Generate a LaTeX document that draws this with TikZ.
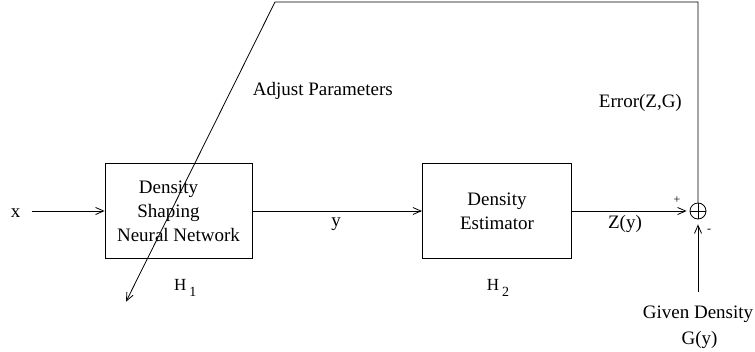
\documentclass[tikz,border=0pt]{standalone}
\usepackage{fontspec}
\setmainfont{Liberation Serif}
\usetikzlibrary{arrows.meta, positioning, calc}

\begin{document}
\begin{tikzpicture}[
    x=1pt, y=-1pt,
    font=\fontsize{19}{24}\selectfont,
    block/.style={rectangle, draw, line width=0.8pt, minimum height=95pt, inner sep=0pt, align=center},
    lbl/.style={inner sep=0pt, anchor=base},
    sign/.style={inner sep=0pt, font=\fontsize{12}{12}\selectfont},
    sub/.style={inner sep=0pt, anchor=base west, font=\fontsize{17}{17}\selectfont},
    arrow/.style={-{Straight Barb[length=8pt,width=7pt]}, line width=0.8pt}
]
\useasboundingbox (0,0) rectangle (755,351);
\node[block, minimum width=147pt] (b1) at (178.5,211) {Density\rule{20pt}{0pt}\\Shaping\rule{20pt}{0pt}\\Neural Network};
\node[block, minimum width=149.4pt] (b2) at (497,211) {Density\\Estimator};
\node[circle, draw, minimum size=16pt, inner sep=0pt, line width=0.8pt] (sum) at (698,211) {};
\draw[line width=0.8pt] (sum.north) -- (sum.south) (sum.west) -- (sum.east);
% labels
\node[lbl] (xin) at (15.5,217) {x};
\node[lbl] (ylbl) at (336,226) {y};
\node[lbl] (zlbl) at (625,228) {Z(y)};
\node[sign] (plus) at (677,200) {+};
\node[sign] (minus) at (709,231) {-};
\node[lbl] (given) at (698,318) {Given Density};
\node[lbl] (giveng) at (699.5,344) {G(y)};
\node[lbl, anchor=base east] (err) at (682,107) {Error(Z,G)};
\node[lbl, anchor=base west] (adj) at (252.7,95) {Adjust Parameters};
\node[sub] (h1) at (174,290) {H\kern3pt\raisebox{-6pt}{\fontsize{14}{14}\selectfont 1}};
\node[sub] (h2) at (486.7,290) {H\kern3pt\raisebox{-6pt}{\fontsize{14}{14}\selectfont 2}};
% feedback loop
\coordinate (xtail) at (31.7,211);
\coordinate (gtail) at (698,291.7);
\coordinate (fbr) at (698,2);
\coordinate (fbl) at (275,2);
\coordinate (fbtip) at (126,301.7);
\draw[arrow] (xtail) -- (b1.west);
\draw[arrow] (b1) -- (b2);
\draw[arrow, shorten >=3pt] (b2) -- (sum);
\draw[arrow, shorten >=5pt] (gtail) -- (sum.south);
\draw[arrow] (sum.north) -- (fbr) -- (fbl) -- (fbtip);
\end{tikzpicture}
\end{document}
